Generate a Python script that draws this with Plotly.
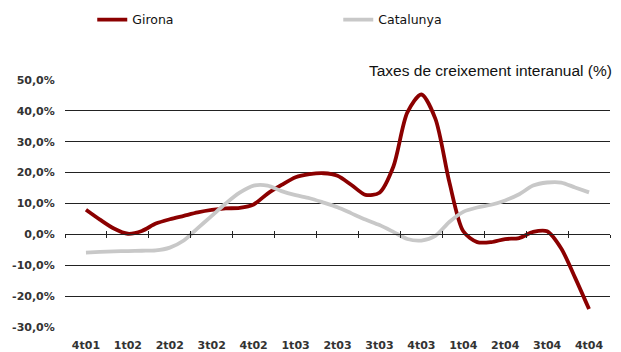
import plotly.graph_objects as go

quarter_labels = ["4t01", "1t02", "2t02", "3t02", "4t02", "1t03", "2t03",
                  "3t03", "4t03", "1t04", "2t04", "3t04", "4t04"]

# monthly observations, three per quarter, from 4t01 to 4t04
girona = [8.0, 4.8, 1.9, 0.2, 1.1, 3.5, 4.9, 6.0, 7.1, 7.9, 8.4, 8.6, 9.7,
          13.2, 16.0, 18.5, 19.5, 19.8, 19.0, 16.0, 12.8, 13.5, 22.0, 39.5,
          45.3, 37.5, 17.0, 1.0, -2.5, -2.5, -1.5, -1.2, 0.8, 1.0, -4.5,
          -14.0, -24.2]
catalunya = [-5.9, -5.7, -5.5, -5.4, -5.3, -5.2, -4.3, -2.0, 2.0, 6.0, 10.0,
             13.5, 15.8, 15.8, 14.0, 12.7, 11.7, 10.3, 8.8, 6.8, 4.8, 3.0,
             0.8, -1.5, -2.0, -0.5, 4.0, 7.3, 8.7, 9.6, 11.0, 13.0, 15.8,
             16.8, 16.8, 15.2, 13.6]

y_ticks = [-30, -20, -10, 0, 10, 20, 30, 40, 50]
y_ticktext = [f"{v:.1f}%".replace(".", ",") for v in y_ticks]

months = [i / 3 for i in range(len(girona))]
n_q = len(quarter_labels)
boundaries = [k - 0.5 for k in range(n_q + 1)]
xr = [-0.5, n_q - 0.5]

fig = go.Figure()
fig.add_trace(go.Scatter(x=months, y=girona, name="Girona", mode="lines",
                         line=dict(color="#8B0000", width=3.8, shape="spline", smoothing=0.8)))
fig.add_trace(go.Scatter(x=months, y=catalunya, name="Catalunya", mode="lines",
                         line=dict(color="#C8C8C8", width=3.8, shape="spline", smoothing=0.8)))

zero_pos = (0 - y_ticks[0]) / (y_ticks[-1] - y_ticks[0])
lab_font = dict(family="DejaVu Sans", size=11, color="#333333", weight="bold")

fig.update_layout(
    width=621, height=352,
    margin=dict(l=65, r=11, t=80, b=25, autoexpand=False),
    paper_bgcolor="white", plot_bgcolor="white",
    showlegend=True,
    legend=dict(orientation="h", x=0.05, xanchor="left", y=1.243, yanchor="middle",
                font=dict(family="DejaVu Sans", size=12.5, color="#111111"),
                entrywidth=201, bgcolor="rgba(0,0,0,0)", tracegroupgap=0),
    xaxis=dict(range=xr, tickmode="array", tickvals=list(range(n_q)),
               ticktext=quarter_labels, ticks="outside", ticklen=8,
               tickcolor="rgba(0,0,0,0)", showgrid=False, zeroline=False,
               showline=False, tickfont=lab_font, automargin=False),
    xaxis2=dict(range=xr, overlaying="x", anchor="free", position=zero_pos,
                tickmode="array", tickvals=boundaries, ticks="outside", ticklen=3,
                tickcolor="#222222", tickwidth=1, showticklabels=False,
                showgrid=False, zeroline=False, showline=True, linecolor="#222222",
                linewidth=1),
    xaxis3=dict(range=xr, overlaying="x", anchor="free", position=zero_pos,
                tickmode="array", tickvals=boundaries, ticks="inside", ticklen=3,
                tickcolor="#222222", tickwidth=1, showticklabels=False,
                showgrid=False, zeroline=False, showline=False),
    yaxis=dict(range=[y_ticks[0], y_ticks[-1]], tickmode="array", tickvals=y_ticks,
               ticktext=y_ticktext, showgrid=True, gridcolor="#222222",
               gridwidth=1, zeroline=False, showline=False, ticks="outside",
               ticklen=7, tickcolor="rgba(0,0,0,0)", tickfont=lab_font,
               automargin=False),
    annotations=[dict(text="Taxes de creixement interanual (%)", xref="paper", yref="paper",
                      x=1.008, xanchor="right", y=1.04, yanchor="middle", showarrow=False,
                      font=dict(family="Liberation Sans", size=15.5, color="#111111"))],
)
# empty traces keep the helper axes drawn
fig.add_trace(go.Scatter(x=[None], y=[None], xaxis="x2", showlegend=False, hoverinfo="skip"))
fig.add_trace(go.Scatter(x=[None], y=[None], xaxis="x3", showlegend=False, hoverinfo="skip"))

fig.write_html("out.html", config={"displayModeBar": False},
               post_script="document.body.style.margin='0';")
